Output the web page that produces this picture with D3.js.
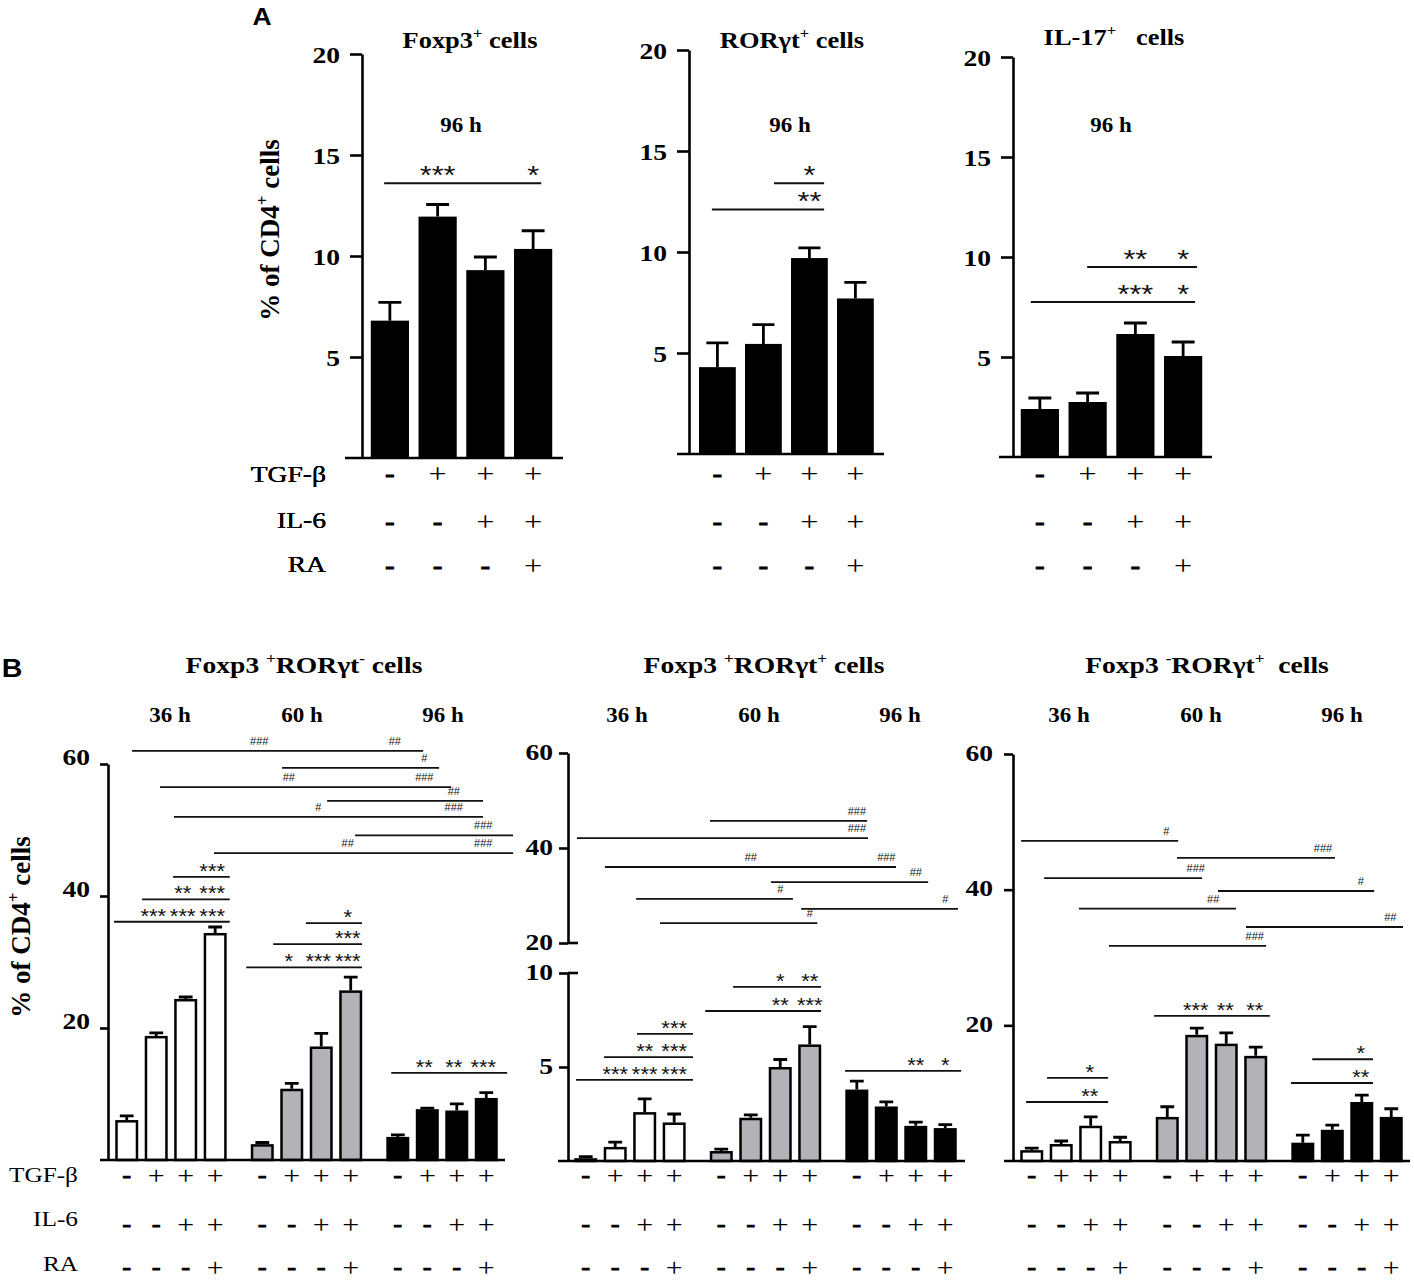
<!DOCTYPE html>
<html>
<head>
<meta charset="utf-8">
<script src="https://cdn.jsdelivr.net/npm/d3@7"></script>
<style>
body { margin: 0; background: #fff; }
svg { display: block; }
text { white-space: pre; }
</style>
</head>
<body>
<script>
// ---- data -------------------------------------------------------------
const conditions = ['none', 'TGF-β', 'TGF-β+IL-6', 'TGF-β+IL-6+RA'];
const treatments = ['TGF-β', 'IL-6', 'RA'];
const tgfB = ['-', '+', '+', '+'];
const il6  = ['-', '-', '+', '+'];
const ra   = ['-', '-', '-', '+'];
const times = ['36 h', '60 h', '96 h'];

const aTicks = [5, 10, 15, 20];
const bTicks = [20, 40, 60];
const bLowTicks = [5, 10];

// A: 96 h, mean and SEM, % of CD4+
const foxp3Mean = [6.8, 11.95, 9.3, 10.35];
const foxp3Err  = [0.9, 0.6, 0.65, 0.9];
const rorgtMean = [4.3, 5.45, 9.7, 7.7];
const rorgtErr  = [1.2, 0.95, 0.5, 0.8];
const il17Mean  = [2.4, 2.75, 6.15, 5.05];
const il17Err   = [0.55, 0.45, 0.55, 0.7];

// significance brackets: [from bar, to bar, level, [[bar, mark], ...]]
// (fractional bar positions; between groups they run across the gap)
const foxp3Sig = [[-0.12, 3.17, 13.6, [[1, '***'], [3, '*']]]];
const rorgtSig = [
    [1.23, 2.32, 13.4, [[2, '*']]],
    [-0.12, 2.32, 12.1, [[2, '**']]]];
const il17Sig = [
    [0.99, 3.29, 9.5, [[2, '**'], [3, '*']]],
    [-0.19, 3.25, 7.75, [[2, '***'], [3, '*']]]];

// B: per time point (36, 60, 96 h), 4 conditions each
const fpRnMean = [[6.05, 18.8, 24.4, 34.4], [2.4, 10.8, 17.2, 25.7], [3.5, 7.7, 7.5, 9.4]];
const fpRnErr  = [[0.65, 0.45, 0.3, 0.9], [0.25, 0.8, 2.0, 2.0], [0.3, 0.15, 1.0, 0.8]];
const fpRpMean = [[0.15, 0.75, 2.6, 2.05], [0.53, 2.3, 5.0, 6.2], [3.8, 2.9, 1.87, 1.75]];
const fpRpErr  = [[0.08, 0.25, 0.7, 0.45], [0.1, 0.15, 0.4, 0.95], [0.45, 0.25, 0.2, 0.18]];
const fnRpMean = [[1.6, 2.5, 5.2, 2.95], [6.5, 18.6, 17.3, 15.5], [2.7, 4.6, 8.7, 6.5]];
const fnRpErr  = [[0.3, 0.45, 1.3, 0.55], [1.5, 1.0, 1.6, 1.3], [1.1, 0.7, 1.0, 1.2]];

// bar index 0..11 runs over time points
const fpRnStars = [
    [-0.43, 3.31, 36.1, [[1, '***'], [2, '***'], [3, '***']]],
    [0.52, 3.31, 39.5, [[2, '**'], [3, '***']]],
    [1.57, 3.31, 42.9, [[3, '***']]],
    [5.48, 7.24, 35.9, [[7, '*']]],
    [4.37, 7.24, 32.7, [[7, '***']]],
    [3.66, 7.24, 29.2, [[5, '*'], [6, '***'], [7, '***']]],
    [7.86, 11.71, 13.2, [[9, '**'], [10, '**'], [11, '***']]]];
const fpRnHash = [
    [0.18, 8.86, 62.0, [[4, '###'], [8, '##']]],
    [4.67, 9.4, 59.4, [[9, '#']]],
    [1.13, 9.81, 56.5, [[5, '##'], [9, '###']]],
    [6.2, 10.89, 54.4, [[10, '##']]],
    [1.6, 10.89, 52.0, [[6, '#'], [10, '###']]],
    [7.09, 11.91, 49.2, [[11, '###']]],
    [2.96, 11.91, 46.5, [[7, '##'], [11, '###']]]];

const fpRpStars = [
    [-0.33, 3.4, 4.31, [[1, '***'], [2, '***'], [3, '***']]],
    [0.62, 3.4, 5.53, [[2, '**'], [3, '***']]],
    [1.74, 3.4, 6.76, [[3, '***']]],
    [3.66, 7.24, 7.98, [[6, '**'], [7, '***']]],
    [4.4, 7.24, 9.26, [[6, '*'], [7, '**']]],
    [7.75, 11.54, 4.79, [[10, '**'], [11, '*']]]];
const fpRpHash = [
    [3.76, 8.35, 45.7, [[8, '###']]],
    [-0.3, 8.38, 42.1, [[8, '###']]],
    [0.65, 9.33, 36.0, [[5, '##'], [9, '###']]],
    [5.69, 10.42, 32.8, [[10, '##']]],
    [1.71, 6.43, 29.3, [[6, '#']]],
    [6.71, 11.43, 27.2, [[11, '#']]],
    [2.52, 7.16, 24.2, [[7, '#']]]];

const fnRpStars = [
    [0.52, 2.59, 12.24, [[2, '*']]],
    [-0.19, 2.59, 8.7, [[2, '**']]],
    [3.72, 7.3, 21.4, [[5, '***'], [6, '**'], [7, '**']]],
    [8.32, 10.38, 15.0, [[10, '*']]],
    [7.75, 10.38, 11.5, [[10, '**']]]];
const fnRpHash = [
    [-0.36, 4.37, 47.2, [[4, '#']]],
    [4.33, 9.09, 44.7, [[8.72, '###']]],
    [0.42, 5.18, 41.7, [[5, '###']]],
    [5.72, 10.42, 39.8, [[10, '#']]],
    [1.6, 6.33, 37.2, [[5.59, '##']]],
    [6.67, 11.4, 34.5, [[11, '##']]],
    [2.62, 7.22, 31.7, [[7, '###']]]];

// ---- layout -----------------------------------------------------------
const W = 1414, H = 1281;
const SX = 1.15;  // the figure's lettering is wider than the font
const SERIF = '"Liberation Serif", "Times New Roman", serif';
const SANS = '"Liberation Sans", Arial, sans-serif';
const groupFill = ['#ffffff', '#b3b3b7', '#000000'];

const aPanels = [
    {title: ['Foxp3', ['+'], ' cells'], mean: foxp3Mean, err: foxp3Err, sig: foxp3Sig,
     x: [366, 557], y: [458, 54], axis: 362, base: [345, 563], tx: 470, ty: 48, hx: 461},
    {title: ['RORγt', ['+'], ' cells'], mean: rorgtMean, err: rorgtErr, sig: rorgtSig,
     x: [694.4, 878.4], y: [454, 50], axis: 689, base: [677, 884], tx: 792, ty: 48, hx: 790},
    {title: ['IL-17', ['+'], '   cells'], mean: il17Mean, err: il17Err, sig: il17Sig,
     x: [1016, 1207], y: [457, 57], axis: 1013, base: [999, 1212], tx: 1114, ty: 45, hx: 1111},
];
const bPanels = [
    {title: ['Foxp3 ', ['+'], 'RORγt', ['-'], ' cells'], mean: fpRnMean, err: fpRnErr,
     stars: fpRnStars, hash: fpRnHash,
     x: [112, 501], y: [1160, 764], axis: 108, base: [100, 505], tick: 8, lab: 18, dy: 0,
     tx: 304, hx: [170, 302, 443], markDx: -3},
    {title: ['Foxp3 ', ['+'], 'RORγt', ['+'], ' cells'], mean: fpRpMean, err: fpRpErr,
     stars: fpRpStars, hash: fpRpHash,
     x: [571, 960], y: [1161, 973], yHi: [943, 753], axis: 568, base: [558, 965], tick: 9, lab: 15, dy: 6,
     tx: 764, hx: [627, 759, 900], markDx: 0},
    {title: ['Foxp3 ', ['-'], 'RORγt', ['+'], '  cells'], mean: fnRpMean, err: fnRpErr,
     stars: fnRpStars, hash: fnRpHash,
     x: [1017, 1406], y: [1161, 754], axis: 1013, base: [1004, 1410], tick: 9, lab: 20, dy: 6,
     tx: 1207, hx: [1069, 1201, 1342], markDx: -1},
];

const svg = d3.select('body').append('svg')
    .attr('width', W).attr('height', H)
    .attr('font-family', SERIF);
svg.append('rect').attr('width', W).attr('height', H).attr('fill', '#fff');


// text with optional superscripts: parts are strings or [sup]
function label(sel, x, y, parts, o) {
    o = o || {};
    const size = o.size || 20;
    let _ = sel.append('text')
        .attr('transform', `translate(${x},${y}) scale(${o.sx ?? SX},1)`)
        .attr('text-anchor', o.anchor || 'middle')
        .attr('font-size', size)
        .attr('font-weight', o.weight || 'bold');
    if (o.family) _.attr('font-family', o.family);
    if (o.fill) _.attr('fill', o.fill);
    if (!Array.isArray(parts)) parts = [parts];
    let up = false;
    parts.forEach(p => {
        const sup = Array.isArray(p);
        const ts = _.append('tspan').text(sup ? p[0] : p);
        if (sup) ts.attr('dy', -0.42 * size).attr('font-size', size * 0.62);
        else if (up) ts.attr('dy', 0.42 * size);
        up = sup;
    });
    return _;
}

function yTitle(x, y) {
    let _ = svg.append('text')
        .attr('transform', `translate(${x},${y}) rotate(-90)`)
        .attr('text-anchor', 'middle')
        .attr('font-size', 27).attr('font-weight', 'bold');
    _.append('tspan').text('% of CD4');
    _.append('tspan').attr('dy', -11).attr('font-size', 17).text('+');
    _.append('tspan').attr('dy', 11).text(' cells');
}

function leftAxis(g, y, ticks, at, o) {
    g.append('g')
        .attr('transform', `translate(${at},0)`)
        .call(d3.axisLeft(y).tickValues(ticks).tickSize(o.tick).tickSizeOuter(0).tickFormat(d3.format('d')))
        .attr('font-size', null).attr('font-family', null)
        .call(a => a.selectAll('path, line').attr('stroke', '#000').attr('stroke-width', 2.6))
        .call(a => a.selectAll('text')
            .attr('x', -o.lab / SX).attr('dy', null).attr('y', o.dy)
            .attr('transform', `scale(${SX},1)`)
            .attr('font-size', 24).attr('font-weight', 'bold').attr('fill', '#000'));
}

// continuous bar position: integer = bar centre, fractions run
// across the inter-group gaps linearly
function barPosition(centers, step) {
    const dom = [-1], rng = [centers[0] - step];
    centers.forEach((c, k) => { dom.push(k); rng.push(c); });
    dom.push(centers.length);
    rng.push(centers[centers.length - 1] + step);
    return d3.scaleLinear().domain(dom).range(rng);
}

function bars(g, mean, err, cx, bw, y, fill, sw) {
    const cap = bw * 0.6;
    g.selectAll(null).data(mean).join('rect')
        .attr('x', (v, k) => cx(k) - bw / 2 + sw / 2)
        .attr('width', bw - sw)
        .attr('y', v => y(v) + sw / 2)
        .attr('height', v => Math.max(0, y(0) - y(v) - sw / 2))
        .attr('fill', (v, k) => fill(k))
        .attr('stroke', sw ? '#000' : 'none')
        .attr('stroke-width', sw);
    g.selectAll(null).data(mean).join('path')
        .attr('d', (v, k) => {
            const c = cx(k), t = y(v + err[k]);
            return `M${c},${y(v)}V${t}M${c - cap / 2},${t}H${c + cap / 2}`;
        })
        .attr('fill', 'none').attr('stroke', '#000').attr('stroke-width', 2.8);
}

function brackets(g, list, cx, y, o) {
    list.forEach(([a, b, lvl, marks]) => {
        const yy = y(lvl);
        g.append('line')
            .attr('x1', cx(a)).attr('x2', cx(b))
            .attr('y1', yy).attr('y2', yy)
            .attr('stroke', '#111').attr('stroke-width', o.sw);
        marks.forEach(([k, s]) => {
            label(g, cx(k) + (o.dx || 0), yy - o.rise + o.mid * o.size, s,
                {size: o.size, weight: 'normal', family: SANS, sx: o.sx, fill: '#111'});
        });
    });
}

function signRows(g, n, cx, rowY, o) {
    const cells = [tgfB, il6, ra].flatMap((row, r) =>
        d3.range(n).map(k => ({r, k, s: row[k % 4]})));
    g.selectAll(null).data(cells).join('text')
        .attr('transform', d => d.s == '+'
            ? `translate(${cx(d.k)},${rowY[d.r] + 0.25 * o.plus}) scale(${SX},1)`
            : `translate(${cx(d.k)},${rowY[d.r] + 0.23 * o.minus}) scale(${SX},1)`)
        .attr('text-anchor', 'middle')
        .attr('font-size', d => d.s == '+' ? o.plus : o.minus)
        .attr('font-weight', d => d.s == '+' ? 'normal' : 'bold')
        .attr('stroke', d => d.s == '+' ? null : '#000')
        .attr('stroke-width', d => d.s == '+' ? null : 1.1)
        .text(d => d.s);
    if (o.labX == null) return;
    treatments.forEach((t, r) => {
        label(g, o.labX, o.labY[r], t, {anchor: 'end', size: o.labSize, weight: 'normal', sx: o.labSx});
    });
}


// ---- panel A ----------------------------------------------------------
label(svg, 262, 25, 'A', {family: SANS, size: 24, sx: 1.1});
yTitle(279, 230);

aPanels.forEach(P => {
    const g = svg.append('g');
    const x = d3.scaleBand().domain(d3.range(conditions.length)).range(P.x)
        .paddingInner(0.2).paddingOuter(0.1);
    const y = d3.scaleLinear().domain([0, 20]).range(P.y);
    const cx = barPosition(x.domain().map(k => x(k) + x.bandwidth() / 2), x.step());

    bars(g, P.mean, P.err, cx, x.bandwidth(), y, () => '#000', 0);
    leftAxis(g, y, aTicks, P.axis, {tick: 12, lab: 22, dy: 8});
    g.append('line')
        .attr('x1', P.base[0]).attr('x2', P.base[1])
        .attr('y1', y(0)).attr('y2', y(0))
        .attr('stroke', '#000').attr('stroke-width', 2.6);

    brackets(g, P.sig, cx, y, {sw: 2, size: 26, rise: 14, mid: 0.57, sx: 1.18});

    label(g, P.tx, P.ty, P.title, {size: 23});
    label(g, P.hx, 132, '96 h', {size: 20});

    signRows(g, 4, cx, [476, 524, 568],
        {plus: 28, minus: 24, labX: 326, labY: [482, 528, 572], labSize: 23, labSx: 1.2});
});


// ---- panel B ----------------------------------------------------------
label(svg, 12, 677, 'B', {family: SANS, size: 26, sx: 1.1});
yTitle(30, 927);

bPanels.forEach((P, pi) => {
    const g = svg.append('g');
    const xg = d3.scaleBand().domain(times).range(P.x).paddingInner(0.13);
    const xc = d3.scaleBand().domain(d3.range(conditions.length))
        .range([0, xg.bandwidth()]).paddingInner(0.22).paddingOuter(0.11);
    const centers = times.flatMap(t => xc.domain().map(c => xg(t) + xc(c) + xc.bandwidth() / 2));
    const cx = barPosition(centers, xc.step());
    const y = d3.scaleLinear().domain([0, P.yHi ? 10 : 60]).range(P.y);
    const yHash = P.yHi ? d3.scaleLinear().domain([20, 60]).range(P.yHi) : y;

    bars(g, P.mean.flat(), P.err.flat(), cx, xc.bandwidth(), y,
        k => groupFill[Math.floor(k / 4)], 2.5);

    if (P.yHi) {
        leftAxis(g, y, bLowTicks, P.axis, P);
        leftAxis(g, yHash, bTicks, P.axis, P);
        // caps on both sides of the axis break
        [yHash(20), y(10)].forEach(v => g.append('line')
            .attr('x1', P.axis).attr('x2', P.axis + P.tick + 1)
            .attr('y1', v).attr('y2', v)
            .attr('stroke', '#000').attr('stroke-width', 2.6));
    } else {
        leftAxis(g, y, bTicks, P.axis, P);
    }
    g.append('line')
        .attr('x1', P.base[0]).attr('x2', P.base[1])
        .attr('y1', y(0)).attr('y2', y(0))
        .attr('stroke', '#000').attr('stroke-width', 2.6);

    brackets(g, P.stars, cx, y, {sw: 1.8, size: 20, rise: 10.5, mid: 0.57, sx: 1.1, dx: P.markDx});
    brackets(g, P.hash, cx, yHash, {sw: 1.8, size: 11, rise: 10, mid: 0.36, sx: 1, dx: P.markDx});

    label(g, P.tx, 673, P.title, {size: 24});
    times.forEach((t, i) => label(g, P.hx[i], 722, t, {size: 20}));

    signRows(g, 12, cx, [1177, 1226, 1269],
        {plus: 26, minus: 22, labX: pi == 0 ? 78 : null, labY: [1182, 1226, 1271], labSize: 22, labSx: 1.15});
});
</script>
</body>
</html>
